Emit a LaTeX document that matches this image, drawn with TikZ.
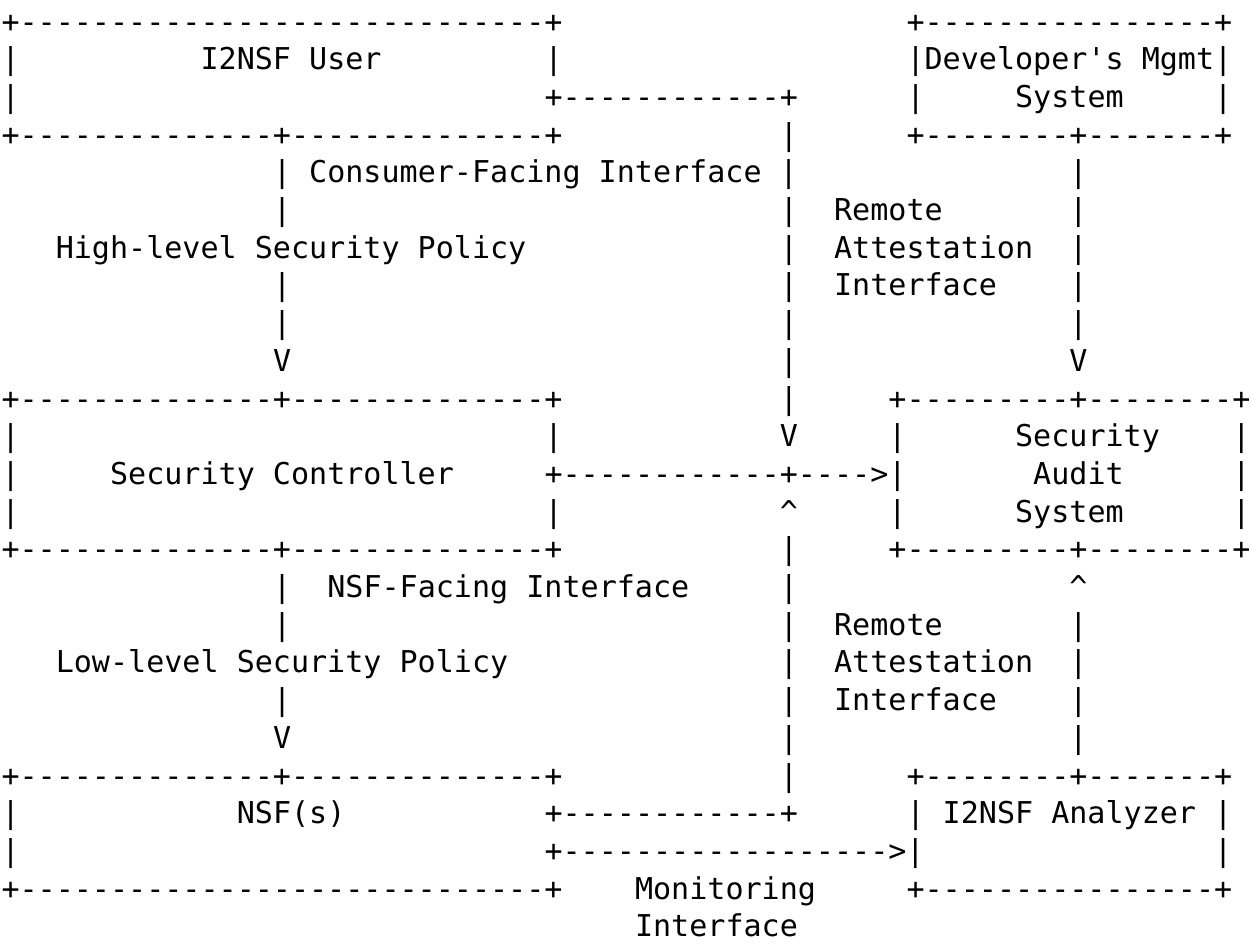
\documentclass[tikz,border=0pt]{standalone}
\usepackage{fontspec}
\setmonofont{DejaVu Sans Mono}
\usepackage{tikz}

\begin{document}
\begin{tikzpicture}[x=9.05pt, y=-18.85pt,
  asc/.style={anchor=base west, inner sep=0pt, outer sep=0pt,
    font=\fontsize{15.03pt}{18.85pt}\selectfont\ttfamily}]
\useasboundingbox (0,0) rectangle (69.17,25.04);
\begin{scope}[shift={(0.083,0.85)}]
% I2NSF User box and Developer's Mgmt System box
\node[asc] (userTop) at (0,0) {+-----------------------------+};
\node[asc] (devTop) at (50,0) {+----------------+};
\node[asc] (userL1) at (0,1) {|};
\node[asc] (user) at (11,1) {I2NSF User};
\node[asc] (userR1) at (30,1) {|};
\node[asc] (dev) at (50,1) {|Developer's Mgmt|};
\node[asc] (userL2) at (0,2) {|};
\node[asc] (userLink) at (30,2) {+------------+};
\node[asc] (devL2) at (50,2) {|};
\node[asc] (devSys) at (56,2) {System};
\node[asc] (devR2) at (67,2) {|};
\node[asc] (userBot) at (0,3) {+--------------+--------------+};
\node[asc] (attUp3) at (43,3) {|};
\node[asc] (devBot) at (50,3) {+--------+-------+};

% Consumer-Facing Interface and first Remote Attestation Interface
\node[asc] (cfi) at (15,4) {| Consumer-Facing Interface |};
\node[asc] (devLine4) at (59,4) {|};
\node[asc] (cfiLine5) at (15,5) {|};
\node[asc] (attUp5) at (43,5) {|};
\node[asc] (remoteA) at (46,5) {Remote};
\node[asc] (devLine5) at (59,5) {|};
\node[asc] (highPol) at (3,6) {High-level Security Policy};
\node[asc] (attUp6) at (43,6) {|};
\node[asc] (attestA) at (46,6) {Attestation};
\node[asc] (devLine6) at (59,6) {|};
\node[asc] (cfiLine7) at (15,7) {|};
\node[asc] (attUp7) at (43,7) {|};
\node[asc] (ifaceA) at (46,7) {Interface};
\node[asc] (devLine7) at (59,7) {|};
\node[asc] (cfiLine8) at (15,8) {|};
\node[asc] (attUp8) at (43,8) {|};
\node[asc] (devLine8) at (59,8) {|};
\node[asc] (cfiArrow) at (15,9) {V};
\node[asc] (attUp9) at (43,9) {|};
\node[asc] (devArrow) at (59,9) {V};

% Security Controller box and Security Audit System box
\node[asc] (ctrlTop) at (0,10) {+--------------+--------------+};
\node[asc] (attUp10) at (43,10) {|};
\node[asc] (auditTop) at (49,10) {+---------+--------+};
\node[asc] (ctrlL11) at (0,11) {|};
\node[asc] (ctrlR11) at (30,11) {|};
\node[asc] (attUpArrow) at (43,11) {V};
\node[asc] (auditL11) at (49,11) {|};
\node[asc] (auditSec) at (56,11) {Security};
\node[asc] (auditR11) at (68,11) {|};
\node[asc] (ctrlL12) at (0,12) {|};
\node[asc] (ctrl) at (6,12) {Security Controller};
\node[asc] (ctrlLink) at (30,12) {+------------+---->|};
\node[asc] (audit) at (57,12) {Audit};
\node[asc] (auditR12) at (68,12) {|};
\node[asc] (ctrlL13) at (0,13) {|};
\node[asc] (ctrlR13) at (30,13) {|};
\node[asc] (attDownArrow) at (43,13) {\textasciicircum};
\node[asc] (auditL13) at (49,13) {|};
\node[asc] (auditSys) at (56,13) {System};
\node[asc] (auditR13) at (68,13) {|};
\node[asc] (ctrlBot) at (0,14) {+--------------+--------------+};
\node[asc] (attDown14) at (43,14) {|};
\node[asc] (auditBot) at (49,14) {+---------+--------+};

% NSF-Facing Interface and second Remote Attestation Interface
\node[asc] (nfiLine15) at (15,15) {|};
\node[asc] (nfi) at (18,15) {NSF-Facing Interface};
\node[asc] (attDown15) at (43,15) {|};
\node[asc] (anaArrow) at (59,15) {\textasciicircum};
\node[asc] (nfiLine16) at (15,16) {|};
\node[asc] (attDown16) at (43,16) {|};
\node[asc] (remoteB) at (46,16) {Remote};
\node[asc] (anaLine16) at (59,16) {|};
\node[asc] (lowPol) at (3,17) {Low-level Security Policy};
\node[asc] (attDown17) at (43,17) {|};
\node[asc] (attestB) at (46,17) {Attestation};
\node[asc] (anaLine17) at (59,17) {|};
\node[asc] (nfiLine18) at (15,18) {|};
\node[asc] (attDown18) at (43,18) {|};
\node[asc] (ifaceB) at (46,18) {Interface};
\node[asc] (anaLine18) at (59,18) {|};
\node[asc] (nfiArrow) at (15,19) {V};
\node[asc] (attDown19) at (43,19) {|};
\node[asc] (anaLine19) at (59,19) {|};

% NSF(s) box and I2NSF Analyzer box
\node[asc] (nsfTop) at (0,20) {+--------------+--------------+};
\node[asc] (attDown20) at (43,20) {|};
\node[asc] (anaTop) at (50,20) {+--------+-------+};
\node[asc] (nsfL21) at (0,21) {|};
\node[asc] (nsf) at (13,21) {NSF(s)};
\node[asc] (nsfLink) at (30,21) {+------------+};
\node[asc] (ana) at (50,21) {| I2NSF Analyzer |};
\node[asc] (nsfL22) at (0,22) {|};
\node[asc] (monLink) at (30,22) {+------------------>|};
\node[asc] (anaR22) at (67,22) {|};
\node[asc] (nsfBot) at (0,23) {+-----------------------------+};
\node[asc] (monA) at (35,23) {Monitoring};
\node[asc] (anaBot) at (50,23) {+----------------+};
\node[asc] (monB) at (35,24) {Interface};
\end{scope}
\end{tikzpicture}
\end{document}
